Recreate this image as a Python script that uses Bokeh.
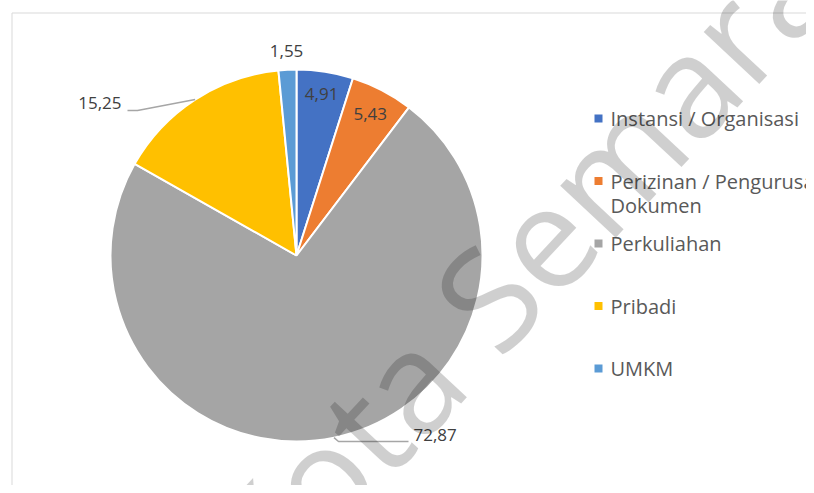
import math
import textwrap
from bokeh.plotting import figure
from bokeh.models import ColumnDataSource, Range1d
from bokeh.core.properties import value
from bokeh.embed import file_html
from bokeh.resources import INLINE

# ---- data ----
categories = ["Instansi / Organisasi", "Perizinan / Pengurusan Dokumen",
              "Perkuliahan", "Pribadi", "UMKM"]
values = [4.91, 5.43, 72.87, 15.25, 1.55]
value_labels = ["4,91", "5,43", "72,87", "15,25", "1,55"]
colors = ["#4472C4", "#ED7D31", "#A5A5A5", "#FFC000", "#5B9BD5"]
watermark = "Kota Semarang"

# ---- layout (picture pixel -> data) ----
W, H = 806, 485
def sx(x):
    return x
def sy(y):
    return H - y

cx, cy, R = sx(296), sy(255), 186

p = figure(width=W, height=H, x_range=Range1d(0, W), y_range=Range1d(0, H),
           output_backend="svg", toolbar_location=None, min_border=0,
           x_axis_location=None, y_axis_location=None)
p.grid.visible = False
p.outline_line_color = None
p.background_fill_color = "white"

# chart frame
p.quad(left=[sx(11.5)], right=[W + 20], bottom=[-20], top=[sy(12.5)],
       fill_color=None, line_color="#d9d9d9", line_width=1)

# ---- pie ----
total = sum(values)
starts, ends, mids = [], [], []
cum = 0.0
for v in values:
    a0 = math.pi / 2 - 2 * math.pi * cum / total
    cum += v
    a1 = math.pi / 2 - 2 * math.pi * cum / total
    starts.append(a0)
    ends.append(a1)
    mids.append((a0 + a1) / 2)

src = ColumnDataSource(dict(start=starts, end=ends, color=colors))
p.wedge(x=cx, y=cy, radius=R, start_angle="start", end_angle="end",
        direction="clock", fill_color="color", line_color="white",
        line_width=2, source=src)

# ---- data labels ----
label_font = value("Open Sans")
label_r = [0.88, 0.86, None, None, 1.10]
for i, lab in enumerate(value_labels):
    if label_r[i] is None:
        continue
    lx = cx + label_r[i] * R * math.cos(mids[i])
    ly = cy + label_r[i] * R * math.sin(mids[i])
    p.text(x=[lx], y=[ly], text=[lab], text_align="center", text_baseline="middle",
           text_font=label_font, text_font_size="17px", text_color="#404040")

# leader labels: (elbow points in picture px, label anchor, align)
leaders = {
    3: dict(pts=[(137, 110), (127, 110)], anchor=(121, 102), align="right"),
    2: dict(pts=[(338, 441), (408, 441)], anchor=(413, 434), align="left"),
}
for i, cfg in leaders.items():
    ex = cx + R * math.cos(mids[i])
    ey = cy + R * math.sin(mids[i])
    xs = [ex] + [sx(a) for a, b in cfg["pts"]]
    ys = [ey] + [sy(b) for a, b in cfg["pts"]]
    p.line(xs, ys, line_color="#a6a6a6", line_width=1.5)
    ax, ay = cfg["anchor"]
    p.text(x=[sx(ax)], y=[sy(ay)], text=[value_labels[i]], text_align=cfg["align"],
           text_baseline="middle", text_font=label_font, text_font_size="17px",
           text_color="#404040")

# ---- legend ----
leg_x_sq, leg_x_txt, leg_y0, leg_step, line_gap = 598, 610, 118, 62.5, 24
for i, cat in enumerate(categories):
    yrow = leg_y0 + i * leg_step
    p.rect(x=[sx(leg_x_sq)], y=[sy(yrow)], width=8, height=8,
           fill_color=colors[i], line_color=None)
    for k, ln in enumerate(textwrap.wrap(cat, 22)):
        p.text(x=[sx(leg_x_txt)], y=[sy(yrow + k * line_gap)], text=[ln],
               text_align="left", text_baseline="middle", text_font=label_font,
               text_font_size="20px", text_color="#595959")

# ---- watermark ----
p.text(x=[sx(572)], y=[sy(203)], text=[watermark], angle=math.radians(47),
       text_align="center", text_baseline="alphabetic", text_font=value("Open Sans"),
       text_font_size="142px", text_color="black", text_alpha=0.19)

open("out.html", "w").write(file_html(p, INLINE))
